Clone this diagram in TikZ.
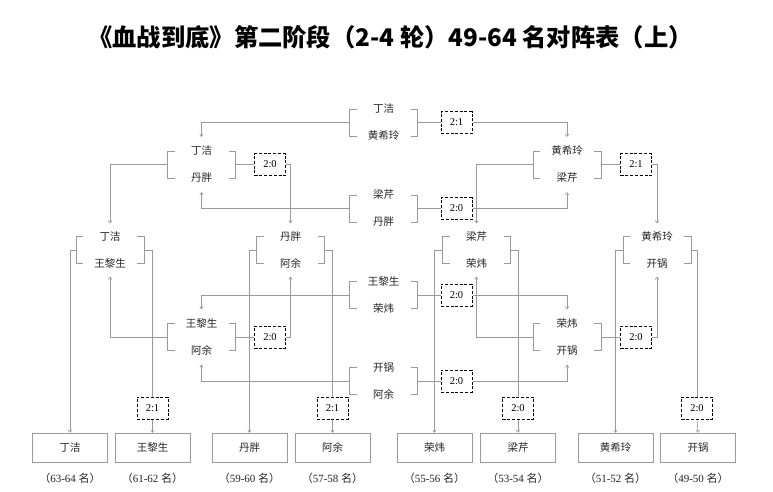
\documentclass[tikz,border=0pt]{standalone}
\usepackage{fontspec}
\setmainfont{Liberation Serif}
\newfontfamily\cjk{Noto Sans CJK SC}
\usetikzlibrary{arrows.meta,calc}
\definecolor{lc}{HTML}{9A9A9A}
\definecolor{tc}{HTML}{262626}
\tikzset{
  ln/.style={draw=lc, line width=0.6pt},
  arr/.style={ln, -{To[length=3pt,width=4pt]}},
  nm/.style={font=\cjk\fontsize{10.5}{12}\selectfont, text=tc, inner sep=0pt, minimum height=12pt},
  sc/.style={draw=black, dash pattern=on 3pt off 1.8pt, line width=1pt, minimum width=31pt, minimum height=22pt, inner sep=0pt, font=\fontsize{10.5}{12}\selectfont},
  fb/.style={draw=lc, line width=0.6pt, minimum width=75pt, minimum height=29pt, inner sep=0pt, font=\cjk\fontsize{10.5}{12}\selectfont, text=tc},
  lb/.style={font=\fontsize{11}{13}\selectfont, text=tc},
}
\newcommand\matchgrp[5]{%
  \node[nm] (#1-a) at (#2,#3-13.5) {#4};
  \node[nm] (#1-b) at (#2,#3+13.5) {#5};
  \coordinate (#1-l) at (#2-34,#3);
  \coordinate (#1-r) at (#2+34,#3);
  \draw[ln] (#2-27,#3-13.5) -- (#2-34,#3-13.5) -- (#2-34,#3+13.5) -- (#2-27,#3+13.5);
  \draw[ln] (#2+27,#3-13.5) -- (#2+34,#3-13.5) -- (#2+34,#3+13.5) -- (#2+27,#3+13.5);
}
\begin{document}
\begin{tikzpicture}[x=1pt,y=-1pt]
\useasboundingbox[fill=white] (0,0) rectangle (773,491);
\node[font=\cjk\bfseries\fontsize{24.3}{27}\selectfont] (title) at (390.5,37) {《血战到底》第二阶段（2-4 轮）49-64 名对阵表（上）};

% first round (center)
\matchgrp{c1}{383.5}{122.5}{丁洁}{黄希玲}
\matchgrp{c2}{383.5}{208.5}{梁芹}{丹胖}
\matchgrp{c3}{383.5}{295}{王黎生}{荣炜}
\matchgrp{c4}{383.5}{381}{开锅}{阿余}
% second round
\matchgrp{L1}{201.5}{164.5}{丁洁}{丹胖}
\matchgrp{L2}{201.5}{337}{王黎生}{阿余}
\matchgrp{R1}{567}{164.5}{黄希玲}{梁芹}
\matchgrp{R2}{567}{337}{荣炜}{开锅}
% third round
\matchgrp{t1}{110}{250}{丁洁}{王黎生}
\matchgrp{t2}{290.5}{250}{丹胖}{阿余}
\matchgrp{t3}{476.5}{250}{梁芹}{荣炜}
\matchgrp{t4}{657}{250}{黄希玲}{开锅}

% score boxes
\node[sc] (sc1) at (456.5,122.5) {2:1};
\node[sc] (sc2) at (456.5,208.5) {2:0};
\node[sc] (sc3) at (456.5,295) {2:0};
\node[sc] (sc4) at (456.5,381) {2:0};
\node[sc] (sL1) at (270,164.5) {2:0};
\node[sc] (sL2) at (270,337) {2:0};
\node[sc] (sR1) at (636,164.5) {2:1};
\node[sc] (sR2) at (636,337) {2:0};

\foreach \m/\s in {c1/sc1,c2/sc2,c3/sc3,c4/sc4,L1/sL1,L2/sL2,R1/sR1,R2/sR2}
  \draw[ln] (\m-r) -- (\m-r -| \s.west);

% final boxes
\node[fb] (f1) at (70,447.5) {丁洁};
\node[fb] (f2) at (152.5,447.5) {王黎生};
\node[fb] (f3) at (249.5,447.5) {丹胖};
\node[fb] (f4) at (332.5,447.5) {阿余};
\node[fb] (f5) at (434.5,447.5) {荣炜};
\node[fb] (f6) at (518,447.5) {梁芹};
\node[fb] (f7) at (615.5,447.5) {黄希玲};
\node[fb] (f8) at (698,447.5) {开锅};
\node[lb] (g1) at (70,478) {{\cjk （}63-64 {\cjk 名）}};
\node[lb] (g2) at (152.5,478) {{\cjk （}61-62 {\cjk 名）}};
\node[lb] (g3) at (249.5,478) {{\cjk （}59-60 {\cjk 名）}};
\node[lb] (g4) at (332.5,478) {{\cjk （}57-58 {\cjk 名）}};
\node[lb] (g5) at (434.5,478) {{\cjk （}55-56 {\cjk 名）}};
\node[lb] (g6) at (518,478) {{\cjk （}53-54 {\cjk 名）}};
\node[lb] (g7) at (615.5,478) {{\cjk （}51-52 {\cjk 名）}};
\node[lb] (g8) at (698,478) {{\cjk （}49-50 {\cjk 名）}};

% final score boxes
\node[sc] (fs1) at (152.5,408) {2:1};
\node[sc] (fs2) at (332.5,408) {2:1};
\node[sc] (fs3) at (518,408) {2:0};
\node[sc] (fs4) at (697,408) {2:0};

% first round -> second round
\draw[arr, shorten >=8pt] (c1-l) -| (L1-a.north);
\draw[arr, shorten >=8pt] (sc1.east) -| (R1-a.north);
\draw[arr, shorten >=8pt] (c2-l) -| (L1-b.south);
\draw[arr, shorten >=8pt] (sc2.east) -| (R1-b.south);
\draw[arr, shorten >=8pt] (c3-l) -| (L2-a.north);
\draw[arr, shorten >=8pt] (sc3.east) -| (R2-a.north);
\draw[arr, shorten >=8pt] (c4-l) -| (L2-b.south);
\draw[arr, shorten >=8pt] (sc4.east) -| (R2-b.south);
% second round -> third round
\draw[arr, shorten >=7pt] (L1-l) -| (t1-a.north);
\draw[arr, shorten >=7pt] (sL1.east) -| (t2-a.north);
\draw[arr, shorten >=7pt] (L2-l) -| (t1-b.south);
\draw[arr, shorten >=7pt] (sL2.east) -| (t2-b.south);
\draw[arr, shorten >=7pt] (R1-l) -| (t3-a.north);
\draw[arr, shorten >=7pt] (sR1.east) -| (t4-a.north);
\draw[arr, shorten >=7pt] (R2-l) -| (t3-b.south);
\draw[arr, shorten >=7pt] (sR2.east) -| (t4-b.south);
% third round -> places
\draw[arr] (t1-l) -| (f1.north);
\draw[ln] (t1-r) -| (fs1.north);
\draw[arr] (fs1.south) -- (f2.north);
\draw[arr] (t2-l) -| (f3.north);
\draw[ln] (t2-r) -| (fs2.north);
\draw[arr] (fs2.south) -- (f4.north);
\draw[arr] (t3-l) -| (f5.north);
\draw[ln] (t3-r) -| (fs3.north);
\draw[arr] (fs3.south) -- (f6.north);
\draw[arr] (t4-l) -| (f7.north);
\draw[ln] (t4-r) -| (fs4.north);
\draw[arr] (fs4.south) -- (f8.north);
\end{tikzpicture}
\end{document}
